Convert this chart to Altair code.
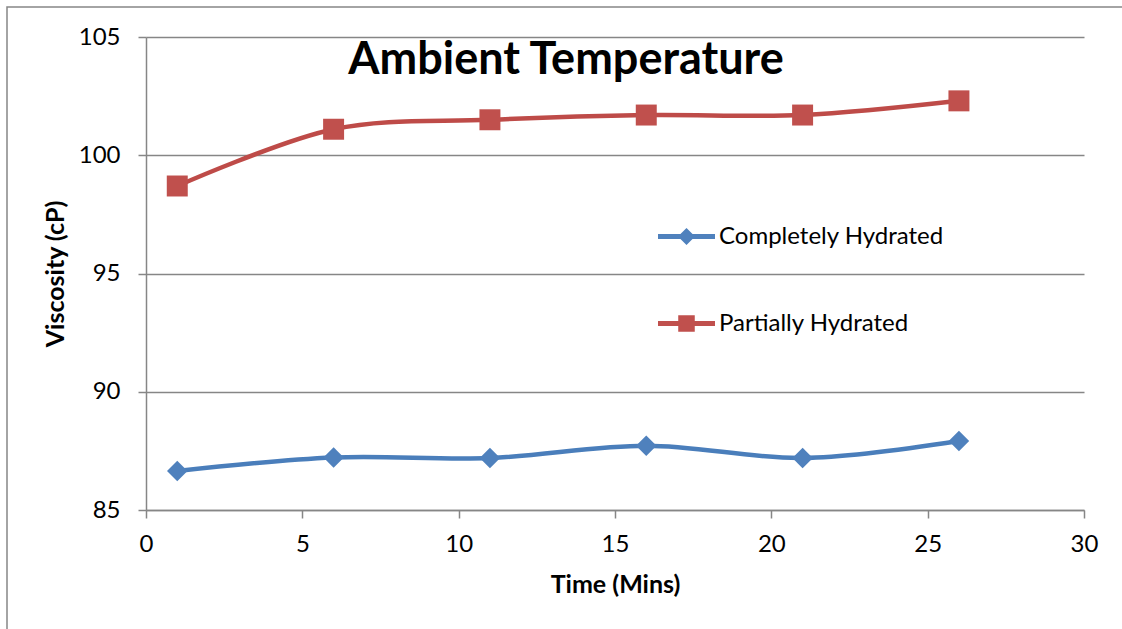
import altair as alt
import pandas as pd

times = [1, 6, 11, 16, 21, 26]
completely = [86.65, 87.22, 87.2, 87.72, 87.2, 87.92]
partially = [98.7, 101.1, 101.5, 101.7, 101.7, 102.3]
series_names = ["Completely Hydrated", "Partially Hydrated"]
line_colors = ["#4A7EBB", "#BE4B48"]
marker_colors = ["#4F81BD", "#C0504D"]
x_ticks = [0, 5, 10, 15, 20, 25, 30]
y_ticks = [85, 90, 95, 100, 105]
chart_title = "Ambient Temperature"

rows = []
for t, v in zip(times, completely):
    rows.append({"time": t, "visc": v, "series": series_names[0]})
for t, v in zip(times, partially):
    rows.append({"time": t, "visc": v, "series": series_names[1]})
df = pd.DataFrame(rows)

FONT = "Lato"
GRAY = "#868686"

diamond_path = "M-1,-0.085H1V0.085H-1Z M0,-0.3L0.3,0L0,0.3L-0.3,0Z"
square_path = "M-1,-0.085H1V0.085H-1Z M-0.29,-0.29H0.29V0.29H-0.29Z"

x_enc = alt.X("time:Q", scale=alt.Scale(domain=[0, 30], nice=False),
              axis=alt.Axis(values=x_ticks, title="Time (Mins)", grid=False,
                            labelFontSize=24, titleFontSize=25, titleFontWeight="bold",
                            labelPadding=14, titlePadding=16, tickSize=8, format="d",
                            labelFlush=False))
y_enc = alt.Y("visc:Q", scale=alt.Scale(domain=[85, 105], nice=False, zero=False),
              axis=alt.Axis(values=y_ticks, title="Viscosity (cP)", grid=True,
                            labelFontSize=24, titleFontSize=25, titleFontWeight="bold",
                            labelPadding=18, titlePadding=10, tickSize=8, format="d",
                            labelFlush=False))

lines = alt.Chart(df).mark_line(strokeWidth=4.5, interpolate="cardinal").encode(
    x=x_enc, y=y_enc,
    color=alt.Color("series:N", scale=alt.Scale(domain=series_names, range=line_colors), legend=None),
)

common_legend = dict(title=None, orient="none", legendX=512, symbolSize=3249,
                     labelFontSize=24, labelOffset=4, labelFont=FONT, labelColor="#000000",
                     symbolStrokeWidth=0, symbolOpacity=1, labelLimit=400)

points_a = alt.Chart(df).transform_filter(
    alt.datum.series == series_names[0]
).mark_point(filled=True, opacity=1, size=420, strokeWidth=0, shape="diamond").encode(
    x="time:Q", y="visc:Q",
    fill=alt.Fill("series:N", scale=alt.Scale(domain=[series_names[0]], range=[marker_colors[0]]),
                  legend=alt.Legend(legendY=171, symbolType=diamond_path, **common_legend)),
)

points_b = alt.Chart(df).transform_filter(
    alt.datum.series == series_names[1]
).mark_point(filled=True, size=440, strokeWidth=0, shape="square", fill=marker_colors[1]).encode(
    x="time:Q", y="visc:Q",
    opacity=alt.Opacity("series:N", scale=alt.Scale(domain=[series_names[1]], range=[1]),
                        legend=alt.Legend(legendY=258, symbolType=square_path,
                                          symbolFillColor=marker_colors[1], **common_legend)),
)

title_text = alt.Chart(pd.DataFrame({"t": [chart_title]})).mark_text(
    fontSize=45, fontWeight="bold", font=FONT, color="#000000",
    align="center", baseline="alphabetic"
).encode(text="t:N", x=alt.value(420), y=alt.value(37))

border = alt.Chart(pd.DataFrame({"b": [0]})).mark_rect(
    fill=None, stroke=GRAY, strokeWidth=1.5
).encode(x=alt.value(-139), x2=alt.value(1100), y=alt.value(-30), y2=alt.value(700))

chart = alt.layer(border, lines, points_a, points_b, title_text).properties(
    width=938, height=473,
    autosize=alt.AutoSizeParams(type="none"),
    padding={"left": 146, "top": 37, "right": 38, "bottom": 119},
).configure(font=FONT).configure_view(stroke=None).configure_axis(
    domainColor=GRAY, tickColor=GRAY, gridColor=GRAY, domainWidth=1.5, gridWidth=1.5,
    tickWidth=1.5, labelColor="#000000", titleColor="#000000", labelFont=FONT, titleFont=FONT,
)

chart.save("out.html", embed_options={"renderer": "svg", "actions": False})
